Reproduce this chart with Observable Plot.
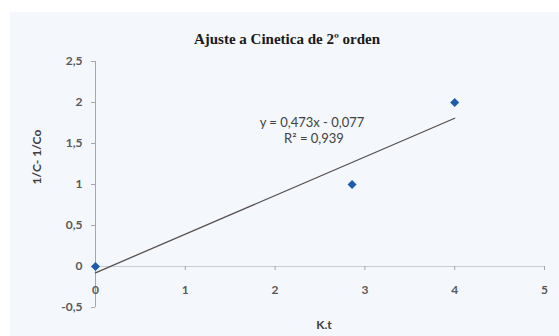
<!DOCTYPE html>
<html>
<head>
<meta charset="utf-8">
<script src="https://cdn.jsdelivr.net/npm/d3@7"></script>
<script src="https://cdn.jsdelivr.net/npm/@observablehq/plot@0.6"></script>
<style>
  html, body { margin: 0; padding: 0; background: #ffffff; }
  #wrap { position: relative; width: 559px; height: 336px; overflow: hidden; }
  #bg { position: absolute; left: 10px; top: 12px; width: 549px; height: 324px; background: #f4f7fb; }
  #chart { position: absolute; left: 0; top: 0; }
  #chart svg { background: transparent; }
</style>
</head>
<body>
<div id="wrap"><div id="bg"></div><div id="chart"></div></div>
<script>
// Data
const kt = [0, 2.857, 4];
const invC = [0, 1, 2];
const xTicks = [0, 1, 2, 3, 4, 5];
const yTicks = [-0.5, 0, 0.5, 1, 1.5, 2, 2.5];
const title = "Ajuste a Cinetica de 2º orden";
const xLabel = "K.t";
const yLabel = "1/C- 1/Co";
const equationLines = ["y = 0,473x - 0,077", "R² = 0,939"];

const points = kt.map((x, i) => ({x, y: invC[i]}));
const fmt = d => String(d).replace(".", ",");
const font = "Lato, 'Liberation Sans', sans-serif";
const tickColor = "#595959";

const chart = Plot.plot({
  width: 559,
  height: 336,
  marginLeft: 95,
  marginRight: 15,
  marginTop: 61,
  marginBottom: 29,
  style: {background: "transparent", fontFamily: font},
  x: {domain: [0, 5], axis: null},
  y: {domain: [-0.5, 2.5], axis: null},
  marks: [
    Plot.ruleX([0], {stroke: "#a6a6a6", strokeWidth: 1}),
    Plot.ruleY([0], {stroke: "#c8ced6", strokeWidth: 1}),
    Plot.axisY(yTicks, {
      anchor: "left", tickSize: 4, tickPadding: 9, stroke: "#a6a6a6",
      tickFormat: fmt, fill: tickColor, fontSize: 12, fontWeight: "bold", label: null
    }),
    Plot.ruleX(xTicks, {x: d => d, y1: 0, y2: 0, insetBottom: -4, stroke: "#a6a6a6"}),
    Plot.text(xTicks, {x: d => d, y: 0, dy: 24, text: fmt, fill: tickColor, fontSize: 12, fontWeight: "bold"}),
    Plot.linearRegressionY(points, {x: "x", y: "y", ci: 0, stroke: "#57504f", strokeWidth: 1.3}),
    Plot.dot(points, {x: "x", y: "y", symbol: "square", rotate: 45, r: 3.6, fill: "#1f5cae", stroke: "none"}),
    Plot.text([equationLines[0]], {frameAnchor: "top", dx: -8, dy: 56, fill: "#404040", fontSize: 13}),
    Plot.text([equationLines[1]], {frameAnchor: "top", dx: -6, dy: 72, fill: "#404040", fontSize: 13}),
    Plot.text([title], {frameAnchor: "top", dx: -33, dy: -28, fill: "#1a1a1a", fontSize: 15,
      fontWeight: "bold", fontFamily: "'Liberation Serif', 'Times New Roman', serif"}),
    Plot.text([xLabel], {frameAnchor: "bottom", dx: 4, dy: 21, fill: "#404040", fontSize: 12, fontWeight: "bold"}),
    Plot.text([yLabel], {frameAnchor: "left", dx: -58, rotate: -90, fill: "#404040", fontSize: 12, fontWeight: "bold"})
  ]
});
document.getElementById("chart").appendChild(chart);
</script>
</body>
</html>
